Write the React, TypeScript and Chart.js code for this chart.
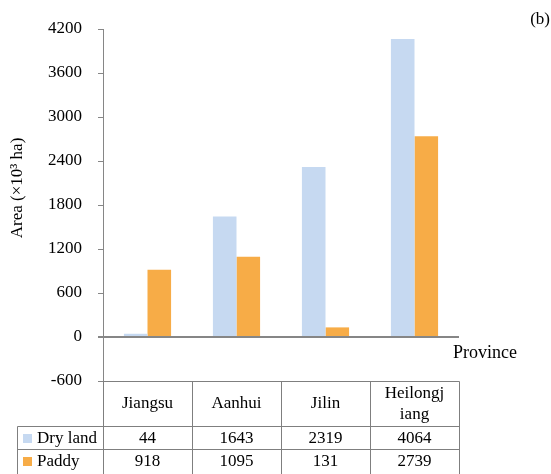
import React, { useEffect, useRef } from "react";
import { Chart, registerables } from "chart.js";

Chart.register(...registerables);

// Cultivated area by province (×10³ ha)
const CATEGORIES: (string | string[])[] = ["Jiangsu", "Aanhui", "Jilin", ["Heilongj", "iang"]];
const SERIES_NAMES = ["Dry land", "Paddy"];
const DRY_LAND = [44, 1643, 2319, 4064];
const PADDY = [918, 1095, 131, 2739];
const Y_TICKS = [-600, 0, 600, 1200, 1800, 2400, 3000, 3600, 4200];

const FONT = "'Liberation Serif', 'Times New Roman', serif";
const LINE_GRAY = "#868686";
const TABLE_GRAY = "#7f7f7f";

function crisp(v: number): number {
  return Math.round(v - 0.5) + 0.5;
}

// Draws the data table under the plot, the axis titles and the panel tag.
const tablePlugin = {
  id: "dataTable",
  afterDraw(chart: any) {
    const { ctx, chartArea } = chart;
    const xs = chart.scales.x;
    const n = CATEGORIES.length;
    const colW = (chartArea.right - chartArea.left) / n;
    const top = crisp(chartArea.bottom);
    const headerBottom = top + 45;
    const rowH = 23;
    const legendLeft = 17.5;
    const left = crisp(chartArea.left);
    const right = crisp(chartArea.right);
    const bottom = 480;

    ctx.save();
    ctx.strokeStyle = TABLE_GRAY;
    ctx.lineWidth = 1;
    ctx.beginPath();
    // horizontal rules
    ctx.moveTo(left, top);
    ctx.lineTo(right, top);
    ctx.moveTo(legendLeft, headerBottom);
    ctx.lineTo(right, headerBottom);
    ctx.moveTo(legendLeft, headerBottom + rowH);
    ctx.lineTo(right, headerBottom + rowH);
    // column rules
    for (let i = 0; i <= n; i++) {
      const xv = crisp(chartArea.left + colW * i);
      ctx.moveTo(xv, i === 0 ? chartArea.bottom : top);
      ctx.lineTo(xv, bottom);
    }
    ctx.moveTo(legendLeft, headerBottom);
    ctx.lineTo(legendLeft, bottom);
    ctx.stroke();

    ctx.fillStyle = "#000";
    ctx.font = `17px ${FONT}`;
    ctx.textAlign = "center";
    ctx.textBaseline = "middle";
    const headerMid = (top + headerBottom) / 2;
    CATEGORIES.forEach((c, i) => {
      const cx = xs.getPixelForValue(i);
      const lines = Array.isArray(c) ? c : [c];
      const lh = 21;
      lines.forEach((ln, j) => {
        ctx.fillText(ln, cx, headerMid + (j - (lines.length - 1) / 2) * lh);
      });
    });

    const rows = [DRY_LAND, PADDY];
    rows.forEach((vals, r) => {
      const cy = headerBottom + rowH * r + rowH / 2 + 0.5;
      const ds = chart.data.datasets[r];
      ctx.fillStyle = ds.backgroundColor;
      ctx.fillRect(23, Math.round(cy - 4.5), 9, 9);
      ctx.fillStyle = "#000";
      ctx.textAlign = "left";
      ctx.fillText(SERIES_NAMES[r], 37, cy);
      ctx.textAlign = "center";
      vals.forEach((v, i) => {
        ctx.fillText(String(v), xs.getPixelForValue(i), cy);
      });
    });

    // y-axis title
    ctx.save();
    ctx.translate(18, 188);
    ctx.rotate(-Math.PI / 2);
    ctx.textAlign = "center";
    ctx.font = `17px ${FONT}`;
    ctx.fillText("Area (×10³ ha)", 0, 0);
    ctx.restore();

    // x-axis title beside the zero line
    ctx.textAlign = "left";
    ctx.font = `18px ${FONT}`;
    ctx.fillText("Province", 453, 353);

    // panel tag
    ctx.textAlign = "right";
    ctx.font = `17px ${FONT}`;
    ctx.fillText("(b)", 550, 20);
    ctx.restore();
  },
};

export default function App() {
  const canvasRef = useRef<HTMLCanvasElement | null>(null);

  useEffect(() => {
    if (!canvasRef.current) return;
    Chart.defaults.font.family = FONT;
    const chart = new Chart(canvasRef.current, {
      type: "bar",
      data: {
        labels: CATEGORIES,
        datasets: [
          {
            label: SERIES_NAMES[0],
            data: DRY_LAND,
            backgroundColor: "#C6D9F1",
            categoryPercentage: 0.53,
            barPercentage: 1,
          },
          {
            label: SERIES_NAMES[1],
            data: PADDY,
            backgroundColor: "#F7AC47",
            categoryPercentage: 0.53,
            barPercentage: 1,
          },
        ],
      },
      options: {
        animation: false,
        responsive: true,
        maintainAspectRatio: false,
        layout: { padding: { left: 0, top: 29, right: 92, bottom: 93 } },
        plugins: {
          legend: { display: false },
          tooltip: { enabled: false },
        },
        scales: {
          x: {
            type: "category",
            display: false,
          },
          y: {
            type: "linear",
            min: -600,
            max: 4200,
            afterBuildTicks: (scale: any) => {
              scale.ticks = Y_TICKS.map((v) => ({ value: v }));
            },
            afterFit: (scale: any) => {
              scale.width = 103;
            },
            border: { display: true, color: LINE_GRAY, width: 1 },
            grid: {
              drawOnChartArea: true,
              drawTicks: true,
              tickLength: 5,
              tickColor: LINE_GRAY,
              color: (c: any) => (c.tick && c.tick.value === 0 ? LINE_GRAY : "rgba(0,0,0,0)"),
              lineWidth: (c: any) => (c.tick && c.tick.value === 0 ? 2 : 1),
            },
            ticks: {
              color: "#000",
              padding: 16,
              font: { size: 17, family: FONT },
              callback: (v: any) => String(v),
            },
          },
        },
      },
      plugins: [tablePlugin],
    });
    return () => chart.destroy();
  }, []);

  return (
    <div style={{ position: "absolute", left: 0, top: 0, width: 551, height: 474, background: "#fff" }}>
      <canvas ref={canvasRef} />
    </div>
  );
}
